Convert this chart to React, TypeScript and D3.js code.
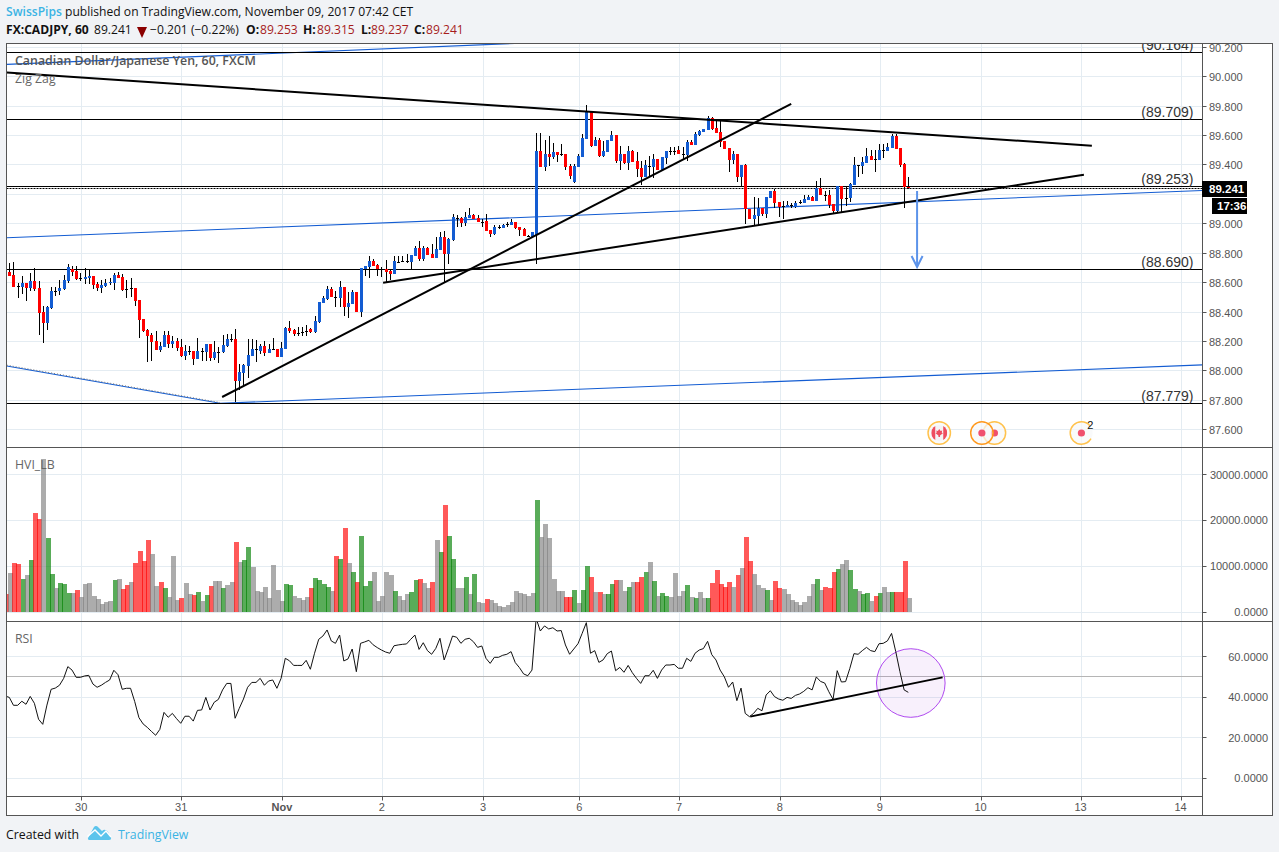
import React from "react";
import * as d3 from "d3";

// Candles as [open, high, low, close]
const candlesOct29to31 = [
[88.671,88.732,88.648,88.648],[88.653,88.739,88.574,88.574],[88.578,88.601,88.499,88.578],[88.574,88.646,88.524,88.598],[88.598,88.598,88.478,88.567],
[88.564,88.667,88.546,88.612],[88.612,88.698,88.546,88.558],[88.564,88.612,88.247,88.397],[88.401,88.442,88.193,88.326],[88.326,88.442,88.279,88.435],
[88.428,88.571,88.419,88.544],[88.546,88.571,88.510,88.546],[88.544,88.619,88.517,88.567],[88.558,88.653,88.553,88.619],[88.612,88.728,88.598,88.707],
[88.691,88.714,88.646,88.673],[88.680,88.714,88.619,88.626],[88.630,88.667,88.612,88.630],[88.628,88.698,88.592,88.637],[88.635,88.687,88.592,88.646],
[88.646,88.646,88.560,88.585],[88.594,88.605,88.544,88.564],[88.564,88.619,88.528,88.585],[88.578,88.628,88.571,88.601],[88.601,88.632,88.585,88.605],
[88.598,88.667,88.551,88.653],[88.653,88.673,88.632,88.635],[88.639,88.660,88.546,88.551],[88.558,88.619,88.496,88.558],[88.562,88.632,88.503,88.562],
[88.564,88.564,88.442,88.476],[88.483,88.483,88.224,88.347],[88.354,88.354,88.265,88.272],[88.279,88.285,88.061,88.238],[88.245,88.256,88.068,88.197],
[88.204,88.272,88.143,88.143],[88.143,88.197,88.129,88.170],[88.163,88.272,88.163,88.245],[88.245,88.272,88.156,88.183],[88.183,88.238,88.156,88.204],
[88.204,88.224,88.136,88.156],[88.163,88.217,88.095,88.102],[88.102,88.177,88.075,88.136],[88.136,88.170,88.109,88.136],[88.136,88.136,88.041,88.081],
[88.081,88.224,88.081,88.136],[88.136,88.156,88.068,88.136],[88.129,88.183,88.068,88.183],[88.183,88.183,88.068,88.088],[88.088,88.204,88.075,88.129],
[88.129,88.163,88.054,88.129],[88.129,88.245,88.122,88.177],[88.170,88.251,88.163,88.217],[88.217,88.251,88.197,88.217],[88.217,88.285,87.789,87.932],
[87.932,88.047,87.870,87.993],[87.986,88.047,87.904,88.041],[88.034,88.217,87.952,88.109],[88.102,88.217,88.102,88.149],[88.147,88.211,88.061,88.147],
[88.136,88.183,88.115,88.170],[88.170,88.204,88.102,88.122],[88.122,88.183,88.122,88.149],[88.149,88.224,88.149,88.149],[88.149,88.149,88.095,88.095],
[88.095,88.197,88.095,88.156],
];
const candlesNov1to3 = [
[88.149,88.299,88.149,88.292],[88.292,88.340,88.258,88.272],[88.279,88.285,88.238,88.251],[88.256,88.299,88.238,88.256],[88.265,88.300,88.235,88.265],
[88.270,88.310,88.240,88.270],[88.285,88.290,88.260,88.268],[88.267,88.374,88.255,88.340],[88.333,88.469,88.324,88.469],[88.462,88.510,88.462,88.496],
[88.489,88.578,88.483,88.558],[88.558,88.571,88.503,88.503],[88.505,88.544,88.437,88.505],[88.496,88.612,88.435,88.571],[88.571,88.571,88.374,88.435],
[88.435,88.537,88.360,88.462],[88.455,88.551,88.455,88.537],[88.537,88.537,88.401,88.401],[88.401,88.700,88.367,88.700],[88.694,88.714,88.646,88.714],
[88.707,88.782,88.632,88.748],[88.748,88.762,88.714,88.714],[88.721,88.728,88.646,88.694],[88.694,88.707,88.639,88.694],[88.694,88.755,88.605,88.673],
[88.680,88.694,88.619,88.660],[88.660,88.782,88.660,88.748],[88.743,88.782,88.734,88.743],[88.746,88.782,88.741,88.746],[88.746,88.796,88.734,88.746],
[88.741,88.789,88.694,88.789],[88.782,88.850,88.782,88.836],[88.836,88.884,88.748,88.762],[88.762,88.850,88.748,88.836],[88.836,88.843,88.789,88.789],
[88.796,88.864,88.768,88.768],[88.768,88.911,88.768,88.830],[88.823,88.945,88.823,88.911],[88.911,88.952,88.605,88.796],[88.796,88.904,88.728,88.898],
[88.891,89.068,88.884,89.047],[89.040,89.061,88.979,89.040],[89.040,89.047,88.979,89.006],[89.006,89.081,88.986,89.047],[89.040,89.109,89.040,89.061],
[89.061,89.068,89.034,89.034],[89.040,89.061,89.013,89.013],[89.013,89.034,88.979,89.013],[89.020,89.068,88.952,88.952],[88.959,88.959,88.911,88.932],
[88.932,88.993,88.925,88.979],[88.977,88.993,88.966,88.977],[88.975,89.000,88.975,88.993],[88.998,89.013,88.979,88.998],[88.993,89.034,88.993,89.013],
[89.013,89.013,88.966,88.972],[88.979,88.979,88.918,88.959],[88.966,88.972,88.918,88.918],[88.920,88.925,88.911,88.920],[88.911,88.945,88.904,88.945],
[88.925,89.617,88.728,89.497],
];
const candlesNov3to7 = [
[89.497,89.619,89.388,89.388],[89.388,89.571,89.360,89.476],[89.476,89.599,89.395,89.456],[89.456,89.551,89.442,89.490],[89.490,89.490,89.422,89.469],
[89.472,89.544,89.463,89.472],[89.476,89.476,89.367,89.388],[89.395,89.408,89.306,89.326],[89.286,89.408,89.279,89.395],[89.388,89.476,89.388,89.463],
[89.456,89.612,89.456,89.585],[89.578,89.809,89.578,89.762],[89.762,89.769,89.524,89.531],[89.531,89.592,89.531,89.571],[89.571,89.585,89.456,89.463],
[89.463,89.565,89.456,89.497],[89.490,89.571,89.490,89.571],[89.565,89.633,89.565,89.605],[89.605,89.605,89.415,89.429],[89.429,89.531,89.367,89.476],
[89.476,89.476,89.408,89.415],[89.415,89.531,89.367,89.497],[89.497,89.503,89.422,89.422],[89.429,89.490,89.320,89.374],[89.381,89.429,89.265,89.320],
[89.320,89.435,89.320,89.401],[89.394,89.463,89.320,89.394],[89.388,89.476,89.313,89.442],[89.442,89.442,89.367,89.367],[89.367,89.456,89.367,89.456],
[89.449,89.497,89.408,89.497],[89.494,89.524,89.469,89.494],[89.497,89.524,89.469,89.497],[89.503,89.531,89.476,89.476],[89.478,89.524,89.435,89.478],
[89.469,89.571,89.429,89.558],[89.558,89.571,89.537,89.537],[89.537,89.626,89.537,89.612],[89.605,89.639,89.599,89.633],[89.626,89.646,89.626,89.646],
[89.639,89.735,89.639,89.721],[89.721,89.728,89.639,89.646],[89.653,89.701,89.619,89.619],[89.626,89.701,89.524,89.558],[89.565,89.565,89.510,89.510],
[89.517,89.517,89.354,89.435],[89.435,89.497,89.408,89.476],[89.476,89.476,89.286,89.320],
];
const candlesNov7to9 = [
[89.320,89.401,89.259,89.401],[89.401,89.408,89.000,89.100],[89.100,89.100,89.034,89.034],[89.034,89.181,88.986,89.061],[89.054,89.175,88.986,89.107],
[89.107,89.107,89.054,89.068],[89.068,89.181,89.039,89.181],[89.177,89.224,89.177,89.224],[89.224,89.238,89.109,89.143],[89.150,89.150,89.045,89.113],
[89.118,89.156,89.034,89.118],[89.113,89.156,89.113,89.129],[89.127,89.141,89.109,89.127],[89.113,89.156,89.109,89.141],[89.147,89.163,89.136,89.147],
[89.143,89.197,89.143,89.170],[89.163,89.197,89.163,89.184],[89.184,89.190,89.156,89.156],[89.156,89.293,89.156,89.245],[89.245,89.313,89.197,89.197],
[89.197,89.224,89.156,89.197],[89.197,89.231,89.109,89.129],[89.136,89.136,89.075,89.088],[89.088,89.258,89.082,89.258],[89.258,89.258,89.082,89.170],
[89.177,89.258,89.122,89.177],[89.177,89.279,89.150,89.272],[89.265,89.456,89.265,89.401],[89.397,89.401,89.320,89.397],[89.395,89.456,89.340,89.422],
[89.415,89.517,89.415,89.463],[89.463,89.503,89.435,89.435],[89.438,89.503,89.354,89.438],[89.435,89.544,89.435,89.503],[89.503,89.544,89.449,89.503],
[89.497,89.551,89.497,89.524],[89.517,89.612,89.517,89.599],[89.599,89.612,89.510,89.510],[89.517,89.517,89.388,89.401],[89.408,89.415,89.109,89.252],
[89.253,89.315,89.237,89.241],
];
const candles = [...candlesOct29to31, ...candlesNov1to3, ...candlesNov3to7, ...candlesNov7to9];

// Volume [value, kind]: r red, g green, a gray. First row belongs to the bar before the first candle.
const volumes: [number, string][] = [
[3988,"r"],[8410,"a"],[10585,"r"],[10368,"r"],[7105,"g"],[7975,"a"],[11238,"g"],[21678,"r"],[20373,"r"],[33423,"a"],[16240,"g"],
[8193,"g"],[5148,"a"],[6235,"g"],[6018,"g"],[4060,"g"],[4060,"a"],[4713,"r"],[3190,"a"],[6018,"a"],[6235,"a"],
[3408,"a"],[2755,"a"],[1668,"a"],[2103,"a"],[2320,"a"],[6888,"g"],[7105,"a"],[4930,"r"],[5800,"r"],[6453,"a"],
[10585,"r"],[13413,"r"],[11020,"r"],[15805,"r"],[12760,"a"],[5583,"a"],[6453,"r"],[5148,"g"],[3190,"a"],[12325,"a"],
[2538,"a"],[2973,"r"],[6235,"a"],[3843,"a"],[3625,"r"],[4278,"g"],[2320,"a"],[3625,"g"],[5583,"r"],[6670,"a"],
[6670,"a"],[5148,"g"],[5800,"a"],[6453,"a"],[15370,"r"],[10803,"a"],[11238,"g"],[14283,"g"],[9715,"a"],[4495,"a"],
[4278,"a"],[5365,"a"],[2973,"a"],[10150,"a"],[4713,"a"],[2320,"a"],[6018,"g"],[5800,"g"],[3408,"a"],[2973,"a"],
[2538,"a"],[3190,"a"],[5148,"r"],[7323,"g"],[6888,"g"],[6018,"g"],[5365,"g"],[4495,"a"],[12325,"r"],[11455,"g"],
[18415,"r"],[10585,"a"],[8628,"g"],[6453,"r"],[16675,"g"],[5583,"g"],[6670,"g"],[8628,"a"],[2320,"a"],[3408,"a"],
[8628,"a"],[7975,"a"],[4495,"g"],[3408,"a"],[2538,"a"],[3843,"a"],[4278,"g"],[6888,"g"],[7105,"r"],[6235,"a"],
[5148,"a"],[6453,"r"],[15805,"a"],[13195,"g"],[23418,"r"],[16675,"g"],[11455,"g"],[5148,"a"],[5148,"a"],[7540,"g"],
[3843,"a"],[8193,"g"],[2103,"a"],[1885,"a"],[2755,"r"],[2538,"a"],[1885,"a"],[1233,"a"],[1015,"a"],[1450,"a"],
[2103,"a"],[4495,"a"],[4060,"a"],[3843,"a"],[3408,"a"],[4060,"a"],[24505,"g"],[16458,"a"],[19285,"a"],[16240,"a"],
[7105,"a"],[4495,"a"],[4495,"a"],[3190,"r"],[3190,"r"],[4713,"g"],[1885,"a"],[4713,"g"],[9933,"g"],[7540,"r"],
[4278,"a"],[4278,"r"],[3843,"a"],[3843,"g"],[6018,"g"],[6888,"r"],[6888,"a"],[4495,"a"],[5365,"g"],[6453,"a"],
[6453,"r"],[7540,"r"],[8628,"g"],[10803,"a"],[6670,"g"],[3408,"a"],[4060,"g"],[3408,"g"],[3190,"a"],[8410,"a"],
[3408,"a"],[4495,"a"],[5800,"g"],[3190,"a"],[2973,"g"],[4278,"a"],[2973,"a"],[2973,"g"],[6235,"r"],[9063,"r"],
[6018,"r"],[5365,"r"],[6453,"r"],[5365,"a"],[7975,"r"],[9498,"a"],[16458,"r"],[11020,"r"],[8193,"a"],[5800,"a"],
[5148,"a"],[4713,"g"],[2538,"a"],[6670,"r"],[5148,"r"],[4930,"a"],[3843,"a"],[2538,"a"],[2103,"a"],[1450,"a"],
[2103,"a"],[3408,"a"],[6018,"a"],[7105,"g"],[4713,"a"],[5365,"r"],[5148,"r"],[8628,"r"],[9280,"g"],[10368,"a"],
[11238,"a"],[9063,"g"],[4930,"g"],[4495,"a"],[3843,"g"],[4060,"g"],[2320,"a"],[3408,"r"],[4060,"g"],[5365,"a"],
[4278,"a"],[4278,"g"],[4278,"r"],[4278,"r"],[11020,"r"],[2973,"a"],
];

// RSI; first value belongs to the bar before the first candle.
const rsiValues = [
40.5,39.8,35.9,35.9,37.9,36.4,40.3,36.9,29.0,26.5,36.0,43.8,44.4,45.8,49.2,55.0,53.3,49.7,49.7,50.4,50.7,
46.4,44.8,45.8,47.2,48.4,53.2,51.0,43.8,44.3,44.3,37.7,29.8,26.7,25.0,23.0,21.1,24.0,32.4,30.0,31.9,
29.3,27.0,30.5,30.5,28.1,33.4,33.6,39.8,33.6,37.4,38.8,43.5,46.7,46.7,29.5,34.4,39.0,44.8,47.2,47.2,
49.2,45.8,47.9,48.4,44.3,49.2,59.1,57.9,55.6,55.6,55.6,58.1,53.7,61.6,68.5,70.1,73.1,67.7,66.5,70.6,
57.8,58.8,63.7,52.5,66.5,67.2,68.0,65.8,64.4,63.2,62.2,61.6,65.3,65.7,66.0,66.2,68.5,70.6,63.5,66.8,
62.9,61.1,64.0,69.0,58.3,64.0,70.1,69.5,66.5,68.5,69.0,67.3,64.5,65.2,59.1,56.6,59.6,59.6,60.6,61.1,
62.4,57.0,54.5,51.4,50.5,53.3,78.8,72.6,75.1,73.6,74.2,72.6,72.8,65.7,61.1,63.7,66.3,71.4,76.7,61.6,
62.9,57.1,58.3,61.4,62.7,53.0,54.6,52.2,55.6,52.0,49.2,46.7,50.5,50.5,53.2,49.2,53.3,55.8,55.8,56.1,
54.2,54.2,59.1,57.6,61.6,63.2,63.9,67.5,60.9,58.3,53.3,50.0,44.8,47.4,38.2,44.4,31.9,30.3,31.9,34.4,
33.2,41.0,43.1,40.2,39.0,38.4,39.8,39.3,40.8,41.5,42.8,44.6,43.5,49.9,47.7,46.9,42.6,38.8,53.0,47.4,
47.6,54.0,61.4,61.1,62.9,64.5,62.9,62.4,66.3,66.5,67.7,71.4,62.4,52.5,43.5,42.3,
];

const timeTicks: [number, string, boolean][] = [
[17.2,"30",false],[41.1,"31",false],[65.2,"Nov",true],[89.1,"2",false],[113.3,"3",false],[136.3,"6",false],
[160.2,"7",false],[184.3,"8",false],[208.2,"9",false],[232.3,"10",false],[256.2,"13",false],[280.1,"14",false],
];
const priceTicks = [87.6,87.8,88,88.2,88.4,88.6,88.8,89,89.2,89.4,89.6,89.8,90,90.2];
const volumeTicks = [0,10000,20000,30000];
const rsiTicks = [0,20,40,60];
const levels = [90.164,89.709,89.253,88.690,87.779];
const lastPrice = 89.241;

// Drawings as [bar, value] pairs
const blueLines = [
  [[-0.6,90.084],[120.9,90.226]],
  [[-0.6,88.905],[285.3,89.227]],
  [[50.4,87.78],[285.3,88.041]],
];
const zigZag = [[-0.6,88.034],[50.4,87.78]];
const blackLines = [
  [[-0.6,90.029],[258.9,89.531]],
  [[50.9,87.823],[187,89.816]],
  [[89.4,88.599],[257,89.333]],
];
const arrowBar = 217.1;
const arrowPrices = [89.224,88.707];
const rsiTrend = [[177.2,30.3],[223.2,49.7]];
const rsiCircle = [215.6,46.9];
const eventBars = [222.4,232.6,235.6,256.4];

const W = 1279, H = 852;
const L = 6.5, R = 1202.5, OUTER = 1272.5, TOP = 43.5, P1 = 447.5, P2 = 621.5, P3 = 796.5, BOT = 815.5;
const MONO = "'Liberation Sans', Arial, sans-serif";
const UI = "'Open Sans', sans-serif";
const GRID = "#e4ecf2";
const AXIS = "#555";
const LABEL = "#555";
const BLUE = "#135cd2";
const RED = "#ff0000";

const x = d3.scaleLinear().domain([0, 215]).range([9.3, 908.3]);
const yP = d3.scaleLinear().domain([87.6, 90.2]).range([429.8, 47.3]);
const yV = d3.scaleLinear().domain([0, 30000]).range([612, 474.5]);
const yR = d3.scaleLinear().domain([0, 60]).range([778, 656.5]);
const lineP = d3.line<number[]>().x(d => x(d[0])).y(d => yP(d[1]));
const lineR = d3.line<number[]>().x(d => x(d[0])).y(d => yR(d[1]));
const volFill: Record<string, string> = { r: "rgba(255,0,0,0.65)", g: "rgba(0,128,0,0.65)", a: "rgba(128,128,128,0.65)" };
const row = (v: number) => Math.floor(v) + 0.5;

function EventMark({ cx, ring, flag, count }: { cx: number; ring: string; flag?: boolean; count?: string }) {
  const cy = 433;
  return (
    <g>
      <circle cx={cx} cy={cy} r={11.2} fill="#f7f8fa" fillOpacity={0.7} stroke={ring} strokeWidth={1.5}
        strokeDasharray={count ? "56 14" : undefined} strokeDashoffset={count ? -6 : undefined} />
      {flag ? (
        <g>
          <clipPath id="flagClip"><circle cx={cx} cy={cy} r={8} /></clipPath>
          <g clipPath="url(#flagClip)">
            <circle cx={cx} cy={cy} r={8} fill="#f4f4f6" />
            <rect x={cx - 8} y={cy - 8} width={4} height={16} fill="#ee4d60" />
            <rect x={cx + 4} y={cy - 8} width={4} height={16} fill="#ee4d60" />
          </g>
          <path d={`M${cx} ${cy - 4}l1.4 2 1.6-.6-.5 2.2 1.2.6-2.9 2.2v1.6h-1.6v-1.6l-2.9-2.2 1.2-.6-.5-2.2 1.6.6z`} fill="#ee4d60" />
        </g>
      ) : (
        <circle cx={cx} cy={cy} r={3.6} fill="#f0506e" />
      )}
      {count && <text x={cx + 9} y={cy - 4} fontFamily={MONO} fontSize={11} fill="#111" textAnchor="middle">{count}</text>}
    </g>
  );
}

export default function App() {
  const tickXs = timeTicks.map(t => x(t[0]));
  const priceY = yP(lastPrice);
  return (
    <svg width={W} height={H} viewBox={`0 0 ${W} ${H}`} style={{ position: "absolute", left: 0, top: 0, display: "block" }}>
      <defs>
        <clipPath id="paneP"><rect x={L} y={TOP} width={R - L} height={P1 - TOP} /></clipPath>
        <clipPath id="paneV"><rect x={L} y={P1} width={R - L} height={P2 - P1} /></clipPath>
        <clipPath id="paneR"><rect x={L} y={P2} width={R - L} height={P3 - P2} /></clipPath>
      </defs>
      <rect width={W} height={H} fill="#f1f3f6" />
      <rect x={L} y={TOP} width={OUTER - L} height={BOT - TOP} fill="#fff" />

      {/* grid */}
      <g stroke={GRID} strokeWidth={1}>
        {tickXs.map((tx, i) => <line key={i} x1={Math.round(tx) + 0.5} x2={Math.round(tx) + 0.5} y1={TOP} y2={P3} />)}
        {priceTicks.map(p => <line key={p} x1={L} x2={R} y1={row(yP(p))} y2={row(yP(p))} />)}
        {volumeTicks.map(v => <line key={v} x1={L} x2={R} y1={row(yV(v))} y2={row(yV(v))} />)}
        {rsiTicks.map(v => <line key={v} x1={L} x2={R} y1={row(yR(v))} y2={row(yR(v))} />)}
      </g>

      {/* price pane */}
      <g clipPath="url(#paneP)">
        {blueLines.map((l, i) => <path key={i} d={lineP(l) as string} fill="none" stroke={BLUE} strokeWidth={1.1} />)}
        <path d={lineP(zigZag) as string} fill="none" stroke={BLUE} strokeWidth={1.1} />
        <path d={lineP(zigZag) as string} fill="none" stroke="#777" strokeWidth={1} strokeDasharray="1 2" transform="translate(0,-0.8)" />
        {levels.map(l => <line key={l} x1={L} x2={R} y1={row(yP(l))} y2={row(yP(l))} stroke="#000" strokeWidth={1} />)}
        <line x1={L} x2={R} y1={row(priceY)} y2={row(priceY)} stroke="#000" strokeWidth={1} strokeDasharray="2 1" />
        {candles.map((c, i) => {
          const [o, h, l, cl] = c;
          const cx = Math.round(x(i));
          const top = Math.round(yP(Math.max(o, cl)));
          const bot = Math.round(yP(Math.min(o, cl)));
          const fill = cl > o ? BLUE : cl < o ? RED : "#000";
          return (
            <g key={i} shapeRendering="crispEdges">
              <rect x={cx} y={yP(h)} width={1} height={yP(l) - yP(h)} fill="#000" />
              <rect x={cx - 1} y={top} width={3} height={Math.max(bot - top, 1)} fill={fill} />
            </g>
          );
        })}
        {blackLines.map((l, i) => <path key={i} d={lineP(l) as string} fill="none" stroke="#000" strokeWidth={2} />)}
        <g stroke="#5c93ea" strokeWidth={2} fill="none">
          <line x1={x(arrowBar)} x2={x(arrowBar)} y1={yP(arrowPrices[0])} y2={yP(arrowPrices[1])} />
          <path d={`M${x(arrowBar) - 5.5} ${yP(arrowPrices[1]) - 11}L${x(arrowBar)} ${yP(arrowPrices[1])}L${x(arrowBar) + 5.5} ${yP(arrowPrices[1]) - 11}`} />
        </g>
        {levels.map(l => (
          <text key={l} x={1193.5} y={yP(l) - 2.5} textAnchor="end" fontFamily={MONO} fontSize={14} fill="#333">({l.toFixed(3)})</text>
        ))}
        <EventMark cx={x(eventBars[2])} ring="#ffc24d" />
        <EventMark cx={x(eventBars[1])} ring="#ff9a1f" />
        <EventMark cx={x(eventBars[0])} ring="#ffc24d" flag />
        <EventMark cx={x(eventBars[3])} ring="#ffc24d" count="2" />
      </g>

      {/* volume pane */}
      <g clipPath="url(#paneV)" shapeRendering="crispEdges">
        {volumes.map((d, i) => {
          const vx = Math.round(x(i - 1) + 0.7) - 2;
          return <rect key={i} x={vx} y={yV(d[0])} width={5} height={yV(0) - yV(d[0])} fill={volFill[d[1]]} />;
        })}
      </g>

      {/* RSI pane */}
      <g clipPath="url(#paneR)">
        <line x1={L} x2={R} y1={row(yR(50))} y2={row(yR(50))} stroke="#b5b5b5" strokeWidth={1} />
        <circle cx={x(rsiCircle[0])} cy={yR(rsiCircle[1])} r={34.3} fill="rgba(156,39,210,0.07)" stroke="#b04af0" strokeWidth={1} />
        <path d={d3.line<number>().x((_, i) => x(i - 1)).y(d => yR(d))(rsiValues) as string} fill="none" stroke="#111" strokeWidth={1} />
        <path d={lineR(rsiTrend) as string} fill="none" stroke="#000" strokeWidth={2} />
      </g>

      {/* pane titles */}
      <text x={15} y={64.5} fontFamily={UI} fontSize={12.4} fontWeight={600} fill="#555">Canadian Dollar/Japanese Yen, 60, FXCM</text>
      <text x={15} y={82.5} fontFamily={UI} fontSize={12.3} fill="#666">Zig Zag</text>
      <text x={15} y={469} fontFamily={UI} fontSize={12.3} fill="#666">HVI_LB</text>
      <text x={15} y={643} fontFamily={UI} fontSize={12.3} fill="#666">RSI</text>

      {/* frame and separators */}
      <g stroke={AXIS} strokeWidth={1} fill="none">
        <rect x={L} y={TOP} width={OUTER - L} height={BOT - TOP} />
        <line x1={L} x2={OUTER} y1={P1} y2={P1} />
        <line x1={L} x2={OUTER} y1={P2} y2={P2} />
        <line x1={L} x2={R} y1={P3} y2={P3} />
        <line x1={R} x2={R} y1={TOP} y2={BOT} />
      </g>

      {/* right axes */}
      <g fontFamily={MONO} fontSize={11} fill={LABEL}>
        {priceTicks.map(p => (
          <g key={p}>
            <line x1={R} x2={R + 4} y1={row(yP(p))} y2={row(yP(p))} stroke={AXIS} />
            {Math.abs(p - lastPrice) > 0.05 && <text x={1209} y={yP(p) + 4.5}>{p.toFixed(3)}</text>}
          </g>
        ))}
        {volumeTicks.map(v => (
          <g key={v}>
            <line x1={R} x2={R + 4} y1={row(yV(v))} y2={row(yV(v))} stroke={AXIS} />
            <text x={1268} y={yV(v) + 4} textAnchor="end">{v.toFixed(4)}</text>
          </g>
        ))}
        {rsiTicks.map(v => (
          <g key={v}>
            <line x1={R} x2={R + 4} y1={row(yR(v))} y2={row(yR(v))} stroke={AXIS} />
            <text x={1268} y={yR(v) + 4} textAnchor="end">{v.toFixed(4)}</text>
          </g>
        ))}
        {timeTicks.map((t, i) => (
          <g key={t[1]}>
            <line x1={Math.round(tickXs[i]) + 0.5} x2={Math.round(tickXs[i]) + 0.5} y1={P3} y2={P3 + 4} stroke={AXIS} />
            <text x={tickXs[i]} y={811} textAnchor="middle" fontWeight={t[2] ? 700 : 400}>{t[1]}</text>
          </g>
        ))}
      </g>

      {/* last price */}
      <rect x={1202} y={181} width={45} height={16} fill="#000" />
      <text x={1209} y={193} fontFamily={MONO} fontSize={11.5} fontWeight={700} fill="#fff">{lastPrice.toFixed(3)}</text>
      <rect x={1212} y={198} width={35} height={16} fill="#000" />
      <text x={1217} y={210} fontFamily={MONO} fontSize={11.5} fontWeight={700} fill="#fff">17:36</text>

      {/* header */}
      <g fontFamily={UI} fontSize={12.1}>
        <text x={6} y={16}>
          <tspan fill="#3bb3e4" fontWeight={600}>SwissPips</tspan>
          <tspan fill="#111"> published on TradingView.com, November 09, 2017 07:42 CET</tspan>
        </text>
        <text x={6} y={34} fontWeight={700} fill="#111">FX:CADJPY, 60</text>
        <text x={94} y={34} fill="#111">89.241</text>
        <path d="M137 27h10l-5 11z" fill="#8b0000" />
        <text x={150} y={34} fill="#111">−0.201 (−0.22%)</text>
        <text x={246} y={34} fontWeight={700} fill="#111">O:</text>
        <text x={260} y={34} fill="#a61c1c">89.253</text>
        <text x={303} y={34} fontWeight={700} fill="#111">H:</text>
        <text x={317} y={34} fill="#a61c1c">89.315</text>
        <text x={361} y={34} fontWeight={700} fill="#111">L:</text>
        <text x={371} y={34} fill="#a61c1c">89.237</text>
        <text x={414} y={34} fontWeight={700} fill="#111">C:</text>
        <text x={426} y={34} fill="#a61c1c">89.241</text>
      </g>

      {/* footer */}
      <text x={6} y={839} fontFamily={UI} fontSize={12.3} fill="#111">Created with</text>
      <path d="M88 838L94 827Q96 825 98.500 827.500L102 831Q105 828 108 832L111 837.500Q111.500 840 109 840L90 840Q87.500 840 88 838Z" fill="#5bc4ec" />
      <path d="M87.500 836.500L95 830L101 836L106 831L111 837" fill="none" stroke="#fff" strokeWidth={1.4} />
      <text x={118} y={839} fontFamily={UI} fontSize={12.3} fill="#3bb3e4">TradingView</text>
    </svg>
  );
}
